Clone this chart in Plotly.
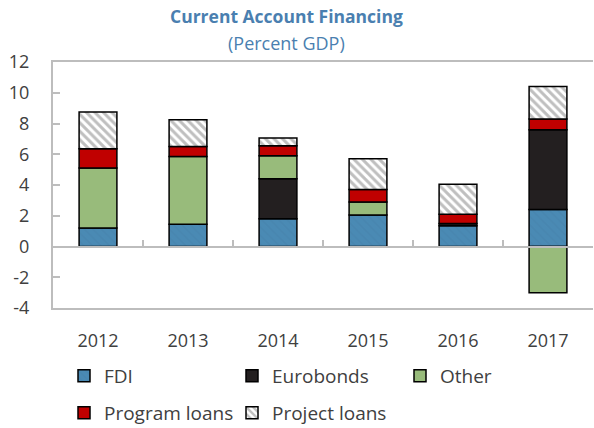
import plotly.graph_objects as go

years = ["2012", "2013", "2014", "2015", "2016", "2017"]
fdi = [1.2, 1.45, 1.8, 2.05, 1.35, 2.4]
eurobonds = [None, None, 2.6, None, 0.15, 5.2]
other = [3.9, 4.4, 1.5, 0.85, None, -3.0]
program_loans = [1.25, 0.65, 0.65, 0.8, 0.6, 0.7]
project_loans = [2.4, 1.75, 0.5, 2.0, 1.95, 2.1]
y_ticks = [-4, -2, 0, 2, 4, 6, 8, 10, 12]
y_tick_text = ["-4", "-2", "0", "2", "4", "6", "8", "10", "12"]

FONT = "Open Sans"
AXC = "#bdbdbd"
TXT = "#404040"

fig = go.Figure()
line = dict(color="black", width=1.5)

def add(name, vals, color, legend, pattern=None):
    marker = dict(color=color, line=line)
    if pattern:
        marker["pattern"] = pattern
    fig.add_trace(go.Bar(x=years, y=vals, name=name, marker=marker,
                         width=0.42, legend=legend))

add("FDI", fdi, "#4a8ab4", "legend",
    dict(shape="\\", fgcolor="#4682ab", size=6, solidity=0.3))
add("Eurobonds", eurobonds, "#231f20", "legend")
add("Other", other, "#98bb7b", "legend")
add("Program loans", program_loans, "#c00000", "legend2")
add("Project loans", project_loans, "white", "legend2",
    dict(shape="\\", fgcolor="#7f7f7f", bgcolor="white", size=6, solidity=0.5))

# zero-line axis with boundary ticks
fig.add_trace(go.Scatter(x=[], y=[], xaxis="x2", showlegend=False))

L, R, T, B = 53, 1, 62, 120
W, H = 594, 428
pw = W - L - R
ph = H - T - B

fig.update_layout(
    width=W, height=H,
    margin=dict(l=L, r=R, t=T, b=B, autoexpand=False),
    barmode="relative",
    plot_bgcolor="white", paper_bgcolor="white",
    font=dict(family=FONT, size=18, color=TXT),
    xaxis=dict(type="category", range=[-0.5, 5.5], showline=True, mirror=True,
               linecolor=AXC, linewidth=2, ticks="", showgrid=False,
               automargin=False,
               tickfont=dict(size=18, color=TXT), ticklabelstandoff=15),
    xaxis2=dict(overlaying="x", anchor="free", position=0.25, range=[-0.5, 5.5],
                showline=True, linecolor=AXC, linewidth=2, ticks="inside",
                tickvals=[0.5, 1.5, 2.5, 3.5, 4.5], ticklen=6, tickwidth=2,
                tickcolor=AXC, showticklabels=False, showgrid=False,
                zeroline=False, layer="above traces", automargin=False),
    yaxis=dict(range=[-4, 12], tickvals=y_ticks, ticktext=y_tick_text,
               showline=True, linecolor=AXC, automargin=False,
               linewidth=2, ticks="inside", ticklen=7, tickwidth=2, tickcolor=AXC,
               showgrid=False, zeroline=False, tickfont=dict(size=18, color=TXT),
               ticklabelstandoff=18),
    legend=dict(orientation="h", xref="container", yref="container",
                x=64 / W, y=1 - 357 / H, xanchor="left", yanchor="top",
                entrywidth=123, entrywidthmode="pixels",
                font=dict(size=19, color=TXT), bgcolor="rgba(0,0,0,0)",
                traceorder="normal"),
    legend2=dict(orientation="h", xref="container", yref="container",
                 x=64 / W, y=1 - 394 / H, xanchor="left", yanchor="top",
                 entrywidth=123, entrywidthmode="pixels",
                 font=dict(size=19, color=TXT), bgcolor="rgba(0,0,0,0)",
                 traceorder="normal"),
    showlegend=True,
)

fig.add_annotation(text="<b>Current Account Financing</b>", xref="paper", yref="paper",
                   x=(286 - L) / pw, y=(H - B - 16) / ph, showarrow=False,
                   font=dict(family=FONT, size=17.5, color="#4a7fb0"),
                   xanchor="center", yanchor="middle")
fig.add_annotation(text="(Percent GDP)", xref="paper", yref="paper",
                   x=(286 - L) / pw, y=(H - B - 43) / ph, showarrow=False,
                   font=dict(family=FONT, size=18, color="#4a7fb0"),
                   xanchor="center", yanchor="middle")

fig.write_html("out.html", post_script="document.body.style.margin='0';",
               config={"displayModeBar": False})
